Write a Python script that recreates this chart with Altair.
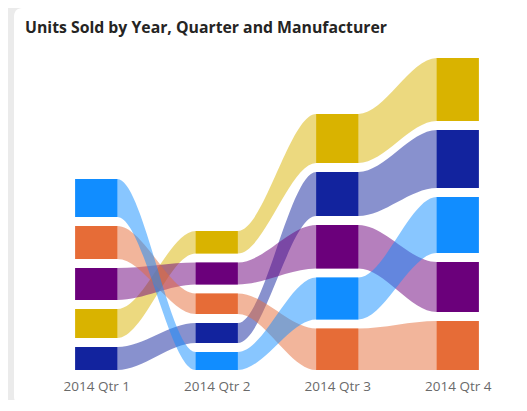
import altair as alt
import pandas as pd

title_text = "Units Sold by Year, Quarter and Manufacturer"
quarters = ["2014 Qtr 1", "2014 Qtr 2", "2014 Qtr 3", "2014 Qtr 4"]
manufacturers = ["VanArsdel", "Natura", "Aliqui", "Pirum", "Abbas"]
colors = ["#118DFF", "#12239E", "#E66C37", "#6B007B", "#D9B300"]
# units sold (thousands) per manufacturer, per quarter
units = {
    "VanArsdel": [38, 18, 42, 56],
    "Natura":    [23, 20, 44, 58],
    "Aliqui":    [33, 20.5, 41.5, 49],
    "Pirum":     [32, 22, 43.5, 50],
    "Abbas":     [29, 22.5, 49, 63],
}

GAP = 9.0
HALF = 0.175
W, H = 482, 320

# stack per quarter: largest on top, with gaps
bars = []
for qi, q in enumerate(quarters):
    order = sorted(manufacturers, key=lambda m: units[m][qi])
    base = 0.0
    for m in order:
        v = units[m][qi]
        bars.append({"m": m, "q": q, "qi": qi, "bottom": base, "top": base + v,
                     "xl": qi - HALF, "xr": qi + HALF, "units": v})
        base += v + GAP
bars_df = pd.DataFrame(bars)

rib = []
for b in bars:
    for x in (b["xl"], b["xr"]):
        rib.append({"m": b["m"], "x": x, "bottom": b["bottom"], "top": b["top"]})
rib_df = pd.DataFrame(rib)

label_expr = "[" + ",".join("'%s'" % q for q in quarters) + "][datum.value]"
xscale = alt.Scale(domain=[-0.5, len(quarters) - 0.5], nice=False, zero=False)
yscale = alt.Scale(domain=[0, H], nice=False)
cscale = alt.Scale(domain=manufacturers, range=colors)

card = alt.Chart(alt.Data(values=[{}])).mark_rect(
    fill="white", cornerRadius=8
).encode(
    x=alt.value(-22), x2=alt.value(W + 40), y=alt.value(-42), y2=alt.value(355)
)

title = alt.Chart(alt.Data(values=[{"t": title_text}])).mark_text(
    align="left", baseline="alphabetic", fontSize=15.8, fontWeight="bold",
    font="Open Sans", color="#252423",
).encode(x=alt.value(-11), y=alt.value(-17), text="t:N")

ribbons = alt.Chart(rib_df).mark_area(interpolate="monotone", opacity=0.5).encode(
    x=alt.X("x:Q", scale=xscale,
            axis=alt.Axis(values=list(range(len(quarters))), labelExpr=label_expr,
                          title=None, grid=False, domain=False, ticks=False,
                          labelPadding=9, labelFontSize=13.5, labelColor="#6a6a6a",
                          labelFont="Open Sans", zindex=1)),
    y=alt.Y("top:Q", scale=yscale, axis=None),
    y2="bottom:Q",
    color=alt.Color("m:N", scale=cscale, legend=None),
    detail="m:N",
)

rects = alt.Chart(bars_df).mark_rect().encode(
    x=alt.X("xl:Q", scale=xscale),
    x2="xr:Q",
    y=alt.Y("top:Q", scale=yscale),
    y2="bottom:Q",
    color=alt.Color("m:N", scale=cscale, legend=None),
    tooltip=["m:N", "q:N", "units:Q"],
)

chart = alt.layer(card, ribbons, rects, title).properties(
    width=W, height=H,
    autosize=alt.AutoSizeParams(type="none"),
    padding={"left": 28, "top": 42, "right": 0, "bottom": 30},
    background="#ebebeb",
).configure_view(stroke=None)

chart.save("out.html", embed_options={"renderer": "svg", "actions": False})
